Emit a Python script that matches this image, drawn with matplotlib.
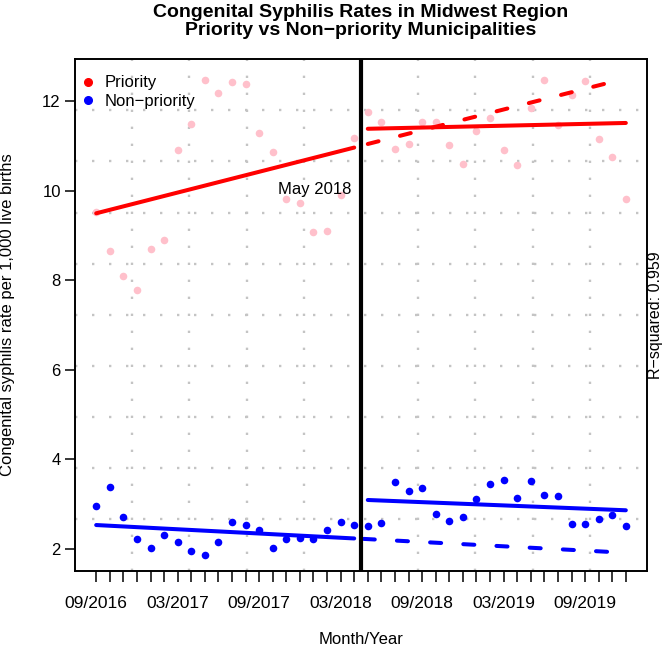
import numpy as np
import matplotlib.pyplot as plt
from matplotlib.lines import Line2D

plt.rcParams['font.family'] = ['Liberation Sans', 'DejaVu Sans']

# month index 0 = 09/2016 ... 39 = 12/2019
month_idx = np.arange(40)
tick_labels = ['09/2016', '03/2017', '09/2017', '03/2018',
               '09/2018', '03/2019', '09/2019']
tick_every = 6

# Priority municipalities (pink points)
priority_rate = [9.52, 8.65, 8.09, 7.79, 8.71, 8.91, 10.92, 11.49, 12.47, 12.19,
                 12.43, 12.39, 11.29, 10.88, 9.81, 9.74, 9.09, 9.11, 9.90, 11.19,
                 11.76, 11.55, 10.94, 11.06, 11.55, 11.55, 11.02, 10.61, 11.33, 11.64,
                 10.92, 10.58, 11.85, 12.49, 11.48, 12.15, 12.45, 11.17, 10.75, 9.82]
# Non-priority municipalities (blue points)
nonpriority_rate = [2.96, 3.37, 2.71, 2.22, 2.02, 2.30, 2.16, 1.96, 1.86, 2.16,
                    2.60, 2.54, 2.41, 2.02, 2.22, 2.23, 2.22, 2.42, 2.60, 2.52,
                    2.50, 2.57, 3.50, 3.28, 3.36, 2.77, 2.63, 2.72, 3.11, 3.45,
                    3.54, 3.13, 3.51, 3.21, 3.19, 2.56, 2.56, 2.66, 2.75, 2.51]

# fitted segments: x ends and y ends
pre_x, post_x = [0, 19], [20, 39]
priority_pre = [9.50, 10.97]
priority_post = [11.39, 11.52]
priority_cf_x, priority_cf = [20, 38.8], [11.05, 12.50]
nonpriority_pre = [2.53, 2.23]
nonpriority_post = [3.09, 2.86]
nonpriority_cf_x, nonpriority_cf = [19.7, 39], [2.22, 1.91]

break_x = 19.5
break_label = 'May 2018'
r_squared = 0.959

fig = plt.figure(figsize=(6.66, 6.47), dpi=100)
ax = fig.add_axes([0.1126, 0.1180, 0.8589, 0.7908])
ax.set_xlim(-1.56, 40.56)
ax.set_ylim(1.51, 12.95)

# dotted grid, 10 x 10 divisions of the plot region
for f in np.linspace(0, 1, 11)[1:-1]:
    for xs, ys in (([0, 1], [f, f]), ([f, f], [0, 1])):
        ax.plot(xs, ys, transform=ax.transAxes, color='#c4c4c4', lw=1.7,
                dashes=(1, 6.2), zorder=1)

ax.scatter(month_idx, priority_rate, s=30, color='pink', zorder=2, linewidths=0)
ax.scatter(month_idx, nonpriority_rate, s=30, color='blue', zorder=2, linewidths=0)

lw = 2.9
for xs, ys, c in ((pre_x, priority_pre, 'red'), (post_x, priority_post, 'red'),
                  (pre_x, nonpriority_pre, 'blue'), (post_x, nonpriority_post, 'blue')):
    ax.plot(xs, ys, color=c, lw=lw, solid_capstyle='round', zorder=3)
for xs, ys, c in ((priority_cf_x, priority_cf, 'red'),
                  (nonpriority_cf_x, nonpriority_cf, 'blue')):
    ax.plot(xs, ys, color=c, lw=lw, dashes=(2.75, 5.5), dash_capstyle='round', zorder=3)

ax.axvline(break_x, color='black', lw=3.0, zorder=4)
ax.text(18.77, 10.03, break_label, ha='right', va='center', fontsize=12, zorder=5)

ax.text(1.0157, 0.5, f'R\u2212squared: {r_squared}', transform=ax.transAxes,
        rotation=90, ha='center', va='center', fontsize=11.5)

# axes, ticks
ax.set_xticks(month_idx)
ax.set_xticklabels([tick_labels[i // tick_every] if i % tick_every == 0 else ''
                    for i in month_idx])
ax.set_yticks([2, 4, 6, 8, 10, 12])
ax.tick_params(axis='x', length=7.9, width=1.1, pad=10, labelsize=12.5)
ax.tick_params(axis='y', length=7.2, width=1.1, pad=3, labelsize=12)
for s in ax.spines.values():
    s.set_linewidth(1.4)

ax.set_xlabel('Month/Year', fontsize=12, va='center')
ax.xaxis.set_label_coords(0.5, -0.135)
fig.text(8 / 666, 0.513, 'Congenital syphilis rate per 1,000 live births',
         rotation=90, ha='center', va='center', fontsize=12)

ax.text(0.5, 1.073, 'Congenital Syphilis Rates in Midwest Region\n'
        'Priority vs Non\u2212priority Municipalities', transform=ax.transAxes,
        ha='center', va='center', fontsize=14, fontweight='bold', linespacing=1.05)

handles = [Line2D([], [], ls='', marker='o', ms=5.5, color='red'),
           Line2D([], [], ls='', marker='o', ms=5.5, color='blue')]
ax.legend(handles, ['Priority', 'Non\u2212priority'], loc='upper left',
          bbox_to_anchor=(0.008, 0.968), frameon=False, fontsize=12,
          handlelength=1.0, handletextpad=0.5, labelspacing=0.21,
          borderpad=0, borderaxespad=0)

plt.savefig('out.png', dpi=100)
